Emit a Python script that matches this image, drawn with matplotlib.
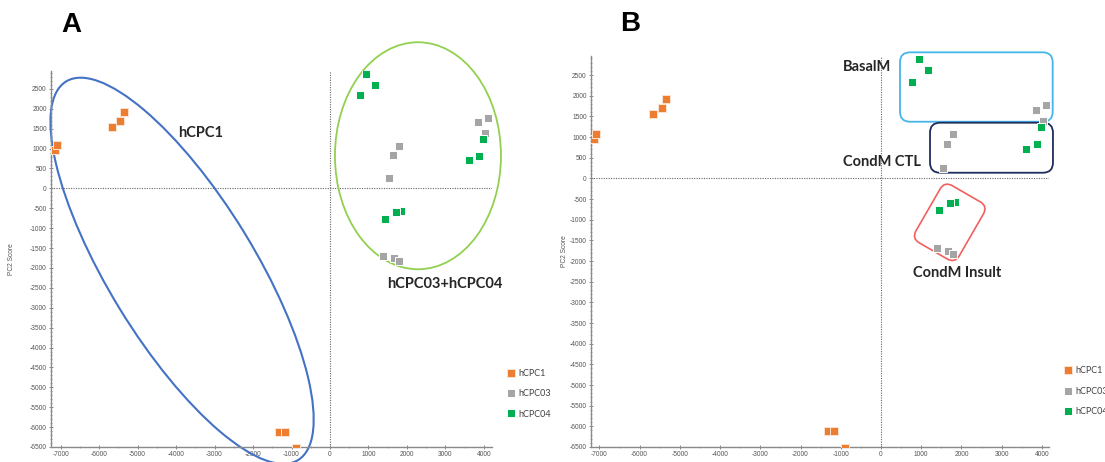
import matplotlib.pyplot as plt
from matplotlib.patches import Ellipse, FancyBboxPatch
from matplotlib.transforms import Affine2D, IdentityTransform
from matplotlib.ticker import MultipleLocator

plt.rcParams['axes.unicode_minus'] = False

# PCA scores
hcpc1_x = [-7140, -7090, -5660, -5455, -5350, -1330, -1170, -890]
hcpc1_y = [960, 1085, 1545, 1695, 1920, -6115, -6115, -6530]
hcpc03_x = [4100, 3850, 4025, 1790, 1635, 1540, 1385, 1660, 1800]
hcpc03_y = [1775, 1660, 1390, 1070, 840, 260, -1690, -1750, -1835]
hcpc04_x = [935, 1170, 770, 3975, 3885, 3610, 1835, 1715, 1435]
hcpc04_y = [2880, 2610, 2340, 1235, 825, 705, -565, -590, -775]

series = [
    ('hCPC1', hcpc1_x, hcpc1_y, '#ed7d31'),
    ('hCPC03', hcpc03_x, hcpc03_y, '#a5a5a5'),
    ('hCPC04', hcpc04_x, hcpc04_y, '#00b050'),
]

x_ticks = list(range(-7000, 4001, 1000))
y_ticks = list(range(-6500, 2501, 500))

tick_font = 'Liberation Sans'
note_font = 'Lato'


def draw_panel(ax, xlim, ylim):
    for name, xs, ys, col in series:
        ax.plot(xs, ys, 's', color=col, ms=5.5, mec='#fbe3d2' if name == 'hCPC1' else 'white',
                mew=0.7, label=name, zorder=3)
    ax.set_xlim(*xlim)
    ax.set_ylim(*ylim)
    ax.axhline(0, color='#666666', lw=0.8, ls=(0, (1, 1.2)), zorder=1)
    ax.axvline(0, color='#666666', lw=0.8, ls=(0, (1, 1.2)), zorder=1)
    for s in ['top', 'right']:
        ax.spines[s].set_visible(False)
    for s in ['left', 'bottom']:
        ax.spines[s].set_color('#8a8a8a')
        ax.spines[s].set_linewidth(1.0)
    ax.set_xticks(x_ticks)
    ax.set_yticks(y_ticks)
    ax.xaxis.set_minor_locator(MultipleLocator(500))
    ax.yaxis.set_minor_locator(MultipleLocator(100))
    ax.tick_params(which='major', direction='inout', length=3, width=0.6, color='#777777',
                   labelsize=4.8, labelcolor='#555555', pad=1.5)
    ax.tick_params(which='minor', direction='inout', length=2, width=0.5, color='#888888')
    for lab in ax.get_xticklabels() + ax.get_yticklabels():
        lab.set_fontfamily(tick_font)
    ax.set_xlabel('PC1 Score', fontsize=4.8, color='#555555', family=tick_font)
    ax.set_ylabel('PC2 Score', fontsize=4.8, color='#555555', family=tick_font)


def px(ax, x, y):
    return ax.transData.transform((x, y))


fig = plt.figure(figsize=(11.05, 4.62), dpi=100)
axA = fig.add_axes([0.04615, 0.03247, 0.3991, 0.8147])
axB = fig.add_axes([0.5348, 0.03247, 0.4145, 0.8463])

draw_panel(axA, (-7250, 4210), (-6500, 2960))
draw_panel(axB, (-7210, 4175), (-6500, 2960))
axA.yaxis.set_label_coords(-0.082, 0.5)
axB.yaxis.set_label_coords(-0.050, 0.5)
axA.xaxis.set_label_coords(0.5, -0.048)
axB.xaxis.set_label_coords(0.5, -0.046)

legA = axA.legend(loc='upper left', bbox_to_anchor=(0.4588, 0.2013), bbox_transform=fig.transFigure,
                  frameon=False, fontsize=6.5, handlelength=0.8, handletextpad=0.5,
                  labelspacing=1.25, borderpad=0, borderaxespad=0, markerscale=1.0)
legB = axB.legend(loc='upper left', bbox_to_anchor=(0.9629, 0.2078), bbox_transform=fig.transFigure,
                  frameon=False, fontsize=6.5, handlelength=0.8, handletextpad=0.5,
                  labelspacing=1.3, borderpad=0, borderaxespad=0, markerscale=1.0)
for leg in (legA, legB):
    for t in leg.get_texts():
        t.set_fontfamily(note_font)
        t.set_color('#404040')

# panel letters
fig.text(71 / 1105, 1 - 25 / 462, 'A', fontsize=20, fontweight='bold', family='Liberation Sans',
         ha='center', va='center')
fig.text(630 / 1105, 1 - 24 / 462, 'B', fontsize=20, fontweight='bold', family='Liberation Sans',
         ha='center', va='center')

# group outlines in panel A (sizes in pixels around a data centre)
cx, cy = px(axA, -3844, -2071)
axA.add_patch(Ellipse((0, 0), 444, 146, angle=-58.5, fill=False, ec='#4472c4', lw=1.5,
                      transform=Affine2D().translate(cx, cy), clip_on=False, zorder=2))
cx, cy = px(axA, 2286, 820)
axA.add_patch(Ellipse((0, 0), 166, 227, angle=0, fill=False, ec='#92d050', lw=1.3,
                      transform=Affine2D().translate(cx, cy), clip_on=False, zorder=2))

axA.text(-3351, 1389, 'hCPC1', fontsize=10.5, fontweight='bold', family=note_font,
         ha='center', va='center', color='#262626')
axA.text(2987, -2399, 'hCPC03+hCPC04', fontsize=10.5, fontweight='bold', family=note_font,
         ha='center', va='center', color='#262626')

# group outlines in panel B
for (x0, y0, x1, y1, col) in [(472, 3049, 4267, 1370, '#45b5ea'),
                              (1218, 1346, 4274, 136, '#1f2d5c')]:
    p0 = px(axB, x0, y1)
    p1 = px(axB, x1, y0)
    axB.add_patch(FancyBboxPatch((p0[0], p0[1]), p1[0] - p0[0], p1[1] - p0[1],
                                 boxstyle='round,pad=0,rounding_size=10', fill=False, ec=col,
                                 lw=1.3, transform=IdentityTransform(), clip_on=False, zorder=2))
cx, cy = px(axB, 1708, -1064)
axB.add_patch(FancyBboxPatch((-25, -33), 50, 66, boxstyle='round,pad=0,rounding_size=9',
                             fill=False, ec='#f0605e', lw=1.2,
                             transform=Affine2D().rotate_deg(-30).translate(cx, cy),
                             clip_on=False, zorder=2))

axB.text(-340, 2701, 'BasalM', fontsize=10.5, fontweight='bold', family=note_font,
         ha='center', va='center', color='#262626')
axB.text(20, 402, 'CondM CTL', fontsize=10.5, fontweight='bold', family=note_font,
         ha='center', va='center', color='#262626')
axB.text(1889, -2292, 'CondM Insult', fontsize=10.5, fontweight='bold', family=note_font,
         ha='center', va='center', color='#262626')

fig.savefig('out.png', dpi=100)
